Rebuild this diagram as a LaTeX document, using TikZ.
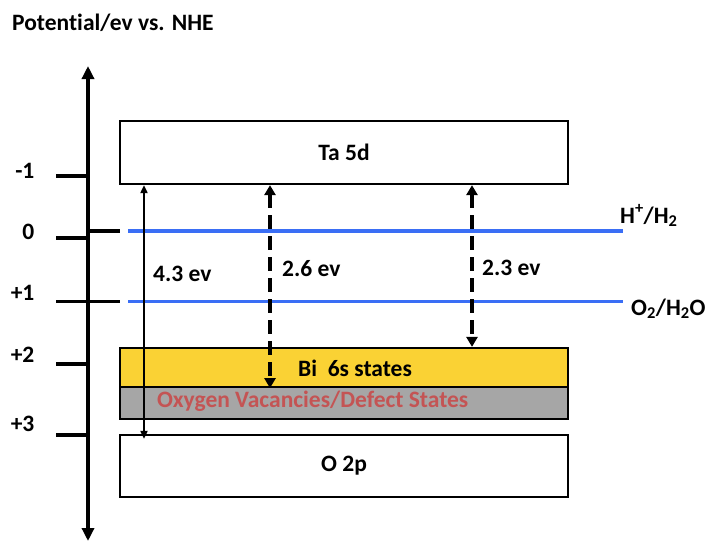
\documentclass[tikz,border=0pt]{standalone}
\usepackage{fontspec}
\setmainfont{Carlito}[Ligatures=NoCommon]
\usetikzlibrary{arrows.meta}

\definecolor{levelblue}{RGB}{58,110,245}
\definecolor{bigold}{RGB}{250,210,52}
\definecolor{defectgray}{RGB}{166,166,166}
\definecolor{defectred}{RGB}{196,84,84}

\begin{document}
\begin{tikzpicture}[x=1pt,y=-1pt,
    lbl/.style={font=\fontsize{23.5}{28}\selectfont\bfseries, inner sep=0pt},
    band/.style={draw, line width=2.2pt, minimum width=448pt, inner sep=0pt, lbl},
    tickline/.style={line width=3.2pt},
    redox/.style={draw=levelblue, line width=3.2pt},
    gaparrow/.style={line width=3.6pt, dash pattern=on 14pt off 7pt,
      {Triangle[length=10pt,width=11pt]}-{Triangle[length=10pt,width=11pt]}},
    spanarrow/.style={line width=1.8pt,
      {Triangle[length=8pt,width=7pt]}-{Triangle[length=8pt,width=7pt]}}]
    \useasboundingbox (0,0) rectangle (706,541);

    % draw title
    \node[lbl, anchor=base west] (title) at (12,30) {Potential/ev vs. NHE};

    % draw vertical axis
    \coordinate (axtop) at (88,66);
    \coordinate (axbot) at (88,541);
    \draw[line width=3.6pt, {Triangle[length=13pt,width=12pt]}-{Triangle[length=13pt,width=12pt]}] (axtop) -- (axbot);

    % draw ticks and their labels
    \foreach \y/\b/\lab in {176/178/-1, 238/239/0, 301.5/300/+1, 364/362/+2, 435/431/+3}
      \draw[tickline] (56,\y) -- (88,\y) node[lbl, anchor=base east] (t\lab) at (36,\b) {\lab};
    \draw[tickline] (88,231) -- (120,231);
    \draw[tickline] (88,301.5) -- (120,301.5);

    % draw bands
    \node[band, minimum height=63pt] (ta) at (344,152.5) {Ta 5d};
    \node[band, fill=bigold, minimum height=39pt] (bi) at (344,367.5) {};
    \node[band, fill=defectgray, minimum height=32pt] (dv) at (344,403) {};
    \node[band, minimum height=62pt] (o2p) at (344,466) {O 2p};
    \node[lbl, anchor=base west] (bilabel) at (298,376) {Bi\ \ 6s states};
    \node[lbl, anchor=base west, text=defectred] (dvlabel) at (157,407) {Oxygen Vacancies/Defect States};

    % draw redox levels
    \coordinate (hl) at (128,231);
    \coordinate (hr) at (623,231);
    \coordinate (ol) at (128,301.5);
    \coordinate (or) at (623,301.5);
    \draw[redox] (hl) -- (hr);
    \draw[redox] (ol) -- (or);
    \node[lbl, anchor=base west] (hlabel) at (620,223) {H\textsuperscript{+}/H\textsubscript{2}};
    \node[lbl, anchor=base west] (olabel) at (631,315) {O\textsubscript{2}/H\textsubscript{2}O};

    % draw band gaps
    \coordinate (g43) at (144,0);
    \coordinate (g26) at (270,0);
    \coordinate (g23) at (472,0);
    \draw[spanarrow] (ta.south -| g43) -- ([yshift=-5pt]o2p.north -| g43);
    \draw[gaparrow] (ta.south -| g26) -- (bi.south -| g26);
    \draw[gaparrow] (ta.south -| g23) -- (bi.north -| g23);
    \node[lbl, anchor=base west] (l43) at (153,281) {4.3 ev};
    \node[lbl, anchor=base west] (l26) at (282,276) {2.6 ev};
    \node[lbl, anchor=base west] (l23) at (482,275) {2.3 ev};
\end{tikzpicture}
\end{document}
